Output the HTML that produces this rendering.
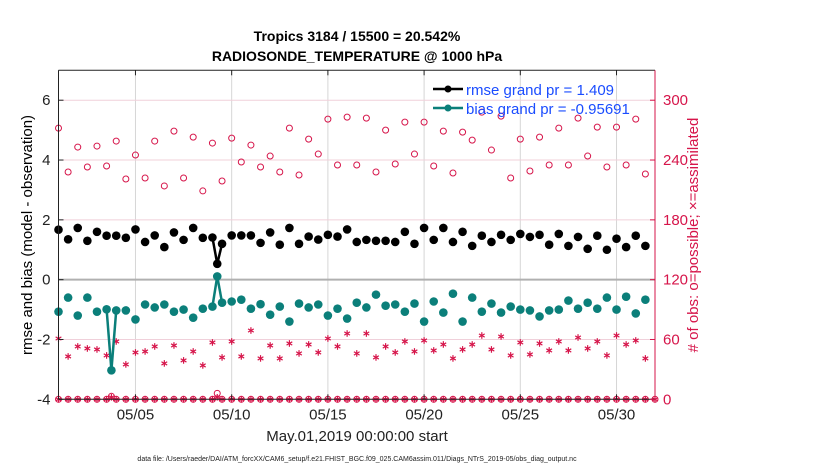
<!DOCTYPE html>
<html><head><meta charset="utf-8"><style>
html,body{margin:0;padding:0;background:#fff;}
svg{display:block;font-family:"Liberation Sans",Arial,sans-serif;}
</style></head><body>
<svg id="chart" width="830" height="470" viewBox="0 0 830 470" xmlns="http://www.w3.org/2000/svg">
<text x="357" y="41" text-anchor="middle" font-size="14" font-weight="bold">Tropics 3184 / 15500 = 20.542%</text>
<text x="357" y="61" text-anchor="middle" font-size="14" font-weight="bold">RADIOSONDE_TEMPERATURE @ 1000 hPa</text>
<g id="grid"></g>
<g id="marks"></g>
<g id="axes"></g>
<text transform="translate(32,235) rotate(-90)" text-anchor="middle" font-size="15">rmse and bias (model - observation)</text>
<text transform="translate(698,235) rotate(-90)" text-anchor="middle" font-size="15" fill="#d6154a">#  of obs: o=possible; ×=assimilated</text>
<text x="357" y="441" text-anchor="middle" font-size="15" fill="#222">May.01,2019 00:00:00 start</text>
<text x="357" y="461" text-anchor="middle" font-size="7" fill="#222">data file: /Users/raeder/DAI/ATM_forcXX/CAM6_setup/f.e21.FHIST_BGC.f09_025.CAM6assim.011/Diags_NTrS_2019-05/obs_diag_output.nc</text>
<g id="legend">
 <g>
  <line x1="433" y1="89" x2="463" y2="89" stroke="#000" stroke-width="2.5"/>
  <circle cx="448" cy="89" r="3.5" fill="#000"/>
  <text x="466" y="95" font-size="15" fill="#1a4cff">rmse grand pr = 1.409</text>
 </g>
 <g>
  <line x1="433" y1="108" x2="463" y2="108" stroke="#0b7f7a" stroke-width="2.5"/>
  <circle cx="448" cy="108" r="3.5" fill="#0b7f7a"/>
  <text x="466" y="114" font-size="15" fill="#1a4cff">bias grand pr = -0.95691</text>
 </g>
</g>
</svg>
<script>
// times in days since May.01 00:00
const times = [0,0.5,1,1.5,2,2.5,2.75,3,3.5,4,4.5,5,5.5,6,6.5,7,7.5,8,8.25,8.5,9,9.5,10,10.5,11,11.5,12,12.5,13,13.5,14,14.5,15,15.5,16,16.5,17,17.5,18,18.5,19,19.5,20,20.5,21,21.5,22,22.5,23,23.5,24,24.5,25,25.5,26,26.5,27,27.5,28,28.5,29,29.5,30,30.5];
const rmse = [1.67,1.35,1.73,1.30,1.60,1.47,null,1.47,1.40,1.68,1.26,1.48,1.09,1.58,1.33,1.73,1.40,1.41,0.53,1.20,1.48,1.48,1.48,1.23,1.58,1.17,1.73,1.20,1.44,1.34,1.50,1.44,1.68,1.26,1.33,1.30,1.30,1.26,1.60,1.20,1.73,1.33,1.73,1.26,1.60,1.13,1.47,1.26,1.50,1.33,1.53,1.43,1.50,1.17,1.53,1.13,1.43,1.03,1.47,1.00,1.37,1.09,1.47,1.13];
const bias = [-1.07,-0.60,-1.20,-0.60,-1.07,-0.99,-3.03,-1.03,-1.03,-1.33,-0.83,-0.93,-0.83,-1.07,-1.00,-1.27,-0.97,-0.90,0.11,-0.77,-0.73,-0.67,-0.97,-0.82,-1.17,-0.90,-1.40,-0.80,-0.93,-0.83,-1.20,-0.97,-1.30,-0.77,-0.93,-0.50,-0.87,-0.83,-1.07,-0.80,-1.40,-0.73,-1.10,-0.47,-1.40,-0.60,-1.07,-0.80,-1.10,-0.90,-1.00,-1.03,-1.23,-1.03,-1.00,-0.70,-0.97,-0.77,-0.97,-0.60,-1.00,-0.57,-1.13,-0.67];
const possible = [272,228,253,233,254,234,3,259,221,245,222,259,214,269,222,263,209,257,6,219,262,238,255,233,244,228,272,225,261,246,281,235,283,235,282,228,270,236,278,246,278,234,269,227,268,260,288,250,284,222,261,229,263,235,272,235,282,244,273,233,273,235,281,226];
const assimilated = [61,43,53,51,50,44,2,58,35,47,48,53,36,54,39,48,34,57,2,42,58,43,69,41,54,41,56,46,55,47,61,53,66,46,66,42,53,47,58,48,59,49,55,41,50,55,64,50,63,44,57,45,56,49,58,49,62,51,58,44,64,55,59,41];
const xTickDays = [4,9,14,19,24,29];
const xTickLabels = ["05/05","05/10","05/15","05/20","05/25","05/30"];
const yLeftTicks = [-4,-2,0,2,4,6];
const yRightTicks = [0,60,120,180,240,300];

const NS="http://www.w3.org/2000/svg";
const X0=58.5, X1=655, Y0=399.3, Y1=70.3;
const xDays=31, yMin=-4, yMax=7, rMax=330;
const xs = d => X0 + d/xDays*(X1-X0);
const yl = v => Y0 - (v-yMin)/(yMax-yMin)*(Y0-Y1);
const yr = v => Y0 - v/rMax*(Y0-Y1);
function mk(tag, attrs, parent){const e=document.createElementNS(NS,tag);for(const k in attrs)e.setAttribute(k,attrs[k]);parent.appendChild(e);return e;}
const grid=document.getElementById('grid'), marks=document.getElementById('marks'), axes=document.getElementById('axes');

xTickDays.forEach(d=>{const l=mk('line',{x1:xs(d),x2:xs(d),y1:Y1,y2:Y0,stroke:'#d6d6d6','stroke-width':1},grid);

});
yRightTicks.forEach(v=>{const l=mk('line',{x1:X0,x2:X1,y1:yr(v),y2:yr(v),stroke:'#f0d0da','stroke-width':1},grid);

});
const zl=mk('line',{x1:X0,x2:X1,y1:yl(0),y2:yl(0),stroke:'#b0b0b0','stroke-width':2},grid);



const red='#d6154a';
function star(x,y,g){const s=3.3;
 [[0,-s,0,s],[-s*0.87,-s*0.5,s*0.87,s*0.5],[-s*0.87,s*0.5,s*0.87,-s*0.5]].forEach(a=>mk('line',{x1:x+a[0],y1:y+a[1],x2:x+a[2],y2:y+a[3],stroke:red,'stroke-width':1.2},g));}
const bottom=mk('g',{},marks);


for(let k=0;k<=xDays*2;k++){const d=k/2;
 mk('circle',{cx:xs(d),cy:yr(0),r:3,fill:'none',stroke:red,'stroke-width':1},bottom);star(xs(d),yr(0),bottom);}

const pg=mk('g',{},marks);


times.forEach((t,i)=>{const c=mk('circle',{cx:xs(t),cy:yr(possible[i]),r:3,fill:'none',stroke:red,'stroke-width':1},pg);

});
const ag=mk('g',{},marks);


times.forEach((t,i)=>star(xs(t),yr(assimilated[i]),ag));

function series(vals,color,name){
 const g=mk('g',{},marks);
 
 
 for(let i=1;i<times.length;i++){
  if(vals[i]==null||vals[i-1]==null)continue;
  if(times[i]-times[i-1]<=0.26) mk('line',{x1:xs(times[i-1]),y1:yl(vals[i-1]),x2:xs(times[i]),y2:yl(vals[i]),stroke:color,'stroke-width':2.5},g);
 }
 times.forEach((t,i)=>{if(vals[i]==null)return;const c=mk('circle',{cx:xs(t),cy:yl(vals[i]),r:4.3,fill:color},g);
 
 });
}
series(bias,'#0b7f7a','bias-series');
series(rmse,'#000','rmse-series');

const ax=mk('g',{},axes);
mk('line',{x1:X0,x2:X0,y1:Y1,y2:Y0,stroke:'#222','stroke-width':1},ax);
mk('line',{x1:X0,x2:X1,y1:Y1,y2:Y1,stroke:'#222','stroke-width':1},ax);
mk('line',{x1:X0,x2:X1,y1:Y0,y2:Y0,stroke:'#222','stroke-width':1},ax);
mk('line',{x1:X1,x2:X1,y1:Y1,y2:Y0,stroke:red,'stroke-width':1},ax);
xTickDays.forEach((d,i)=>{
 mk('line',{x1:xs(d),x2:xs(d),y1:Y0,y2:Y0-5,stroke:'#222'},ax);
 mk('line',{x1:xs(d),x2:xs(d),y1:Y1,y2:Y1+5,stroke:'#222'},ax);
 const t=mk('text',{x:xs(d),y:Y0+20,'text-anchor':'middle','font-size':15,fill:'#222'},ax);t.textContent=xTickLabels[i];
 
 
});
yLeftTicks.forEach(v=>{
 mk('line',{x1:X0,x2:X0+5,y1:yl(v),y2:yl(v),stroke:'#222'},ax);
 const t=mk('text',{x:X0-8,y:yl(v)+5,'text-anchor':'end','font-size':15,fill:'#222'},ax);t.textContent=v;
 
 
});
yRightTicks.forEach(v=>{
 mk('line',{x1:X1,x2:X1-5,y1:yr(v),y2:yr(v),stroke:red},ax);
 const t=mk('text',{x:X1+8,y:yr(v)+5,'text-anchor':'start','font-size':15,fill:red},ax);t.textContent=v;
 
 
});
</script>
</body></html>
